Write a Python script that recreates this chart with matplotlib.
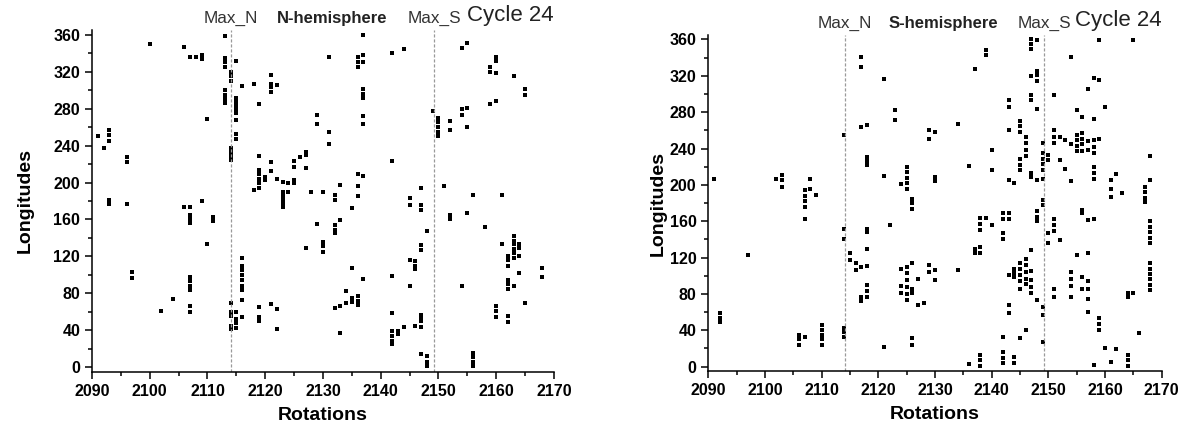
import numpy as np
import matplotlib
matplotlib.use("Agg")
import matplotlib.pyplot as plt
from matplotlib.ticker import MultipleLocator

plt.rcParams['font.family'] = ['Liberation Sans', 'DejaVu Sans']

# (rotation, longitude) of the active longitudes
north = [
    (2091, 250), (2092, 237), (2093, 257), (2093, 251), (2093, 245), (2093, 181), (2093, 177),
    (2096, 228), (2096, 222), (2096, 177), (2097, 103), (2097, 97), (2100, 350), (2102, 61),
    (2104, 74), (2106, 347), (2106, 174),
    (2107, 336), (2107, 174), (2107, 165), (2107, 160), (2107, 156), (2107, 98), (2107, 93),
    (2107, 88), (2107, 84), (2107, 66), (2107, 60), (2108, 336), (2109, 338), (2109, 334),
    (2109, 180), (2110, 269), (2110, 133), (2111, 163), (2111, 158),
    (2113, 358), (2113, 335), (2113, 330), (2113, 325), (2113, 300), (2113, 295), (2113, 290),
    (2113, 286),
    (2114, 320), (2114, 315), (2114, 310), (2114, 237), (2114, 233), (2114, 229), (2114, 224),
    (2114, 70), (2114, 60), (2114, 56), (2114, 45), (2114, 41),
    (2115, 331), (2115, 291), (2115, 287), (2115, 283), (2115, 279), (2115, 275), (2115, 268),
    (2115, 252), (2115, 247), (2115, 60), (2115, 52), (2115, 48), (2115, 43),
    (2116, 304), (2116, 118), (2116, 110), (2116, 105), (2116, 100), (2116, 95), (2116, 88),
    (2116, 84), (2116, 73), (2116, 55),
    (2118, 307), (2118, 192),
    (2119, 285), (2119, 229), (2119, 214), (2119, 209), (2119, 204), (2119, 200), (2119, 194),
    (2119, 65), (2119, 54), (2119, 50),
    (2120, 206), (2120, 203),
    (2121, 316), (2121, 307), (2121, 303), (2121, 298), (2121, 222), (2121, 212), (2121, 69),
    (2122, 305), (2122, 204), (2122, 63), (2122, 41),
    (2123, 201), (2123, 190), (2123, 186), (2123, 182), (2123, 178), (2123, 174),
    (2124, 199), (2124, 190), (2125, 223), (2125, 217), (2125, 203), (2125, 199),
    (2126, 228), (2127, 233), (2127, 230), (2127, 216), (2127, 129), (2128, 190),
    (2129, 273), (2129, 263), (2129, 155), (2130, 190), (2130, 136), (2130, 131), (2130, 125),
    (2131, 336), (2131, 255), (2131, 242),
    (2132, 187), (2132, 181), (2132, 154), (2132, 149), (2132, 145), (2132, 64),
    (2133, 197), (2133, 159), (2133, 66), (2133, 37), (2134, 83), (2134, 70),
    (2135, 172), (2135, 107), (2135, 75), (2135, 71),
    (2136, 336), (2136, 330), (2136, 325), (2136, 209), (2136, 196), (2136, 185), (2136, 77),
    (2136, 72), (2136, 68),
    (2137, 360), (2137, 338), (2137, 330), (2137, 301), (2137, 296), (2137, 291), (2137, 272),
    (2137, 263), (2137, 207), (2137, 96),
    (2142, 340), (2142, 223), (2142, 99), (2142, 59), (2142, 39), (2142, 34), (2142, 29),
    (2142, 25), (2143, 39), (2143, 36), (2144, 344), (2144, 44),
    (2145, 183), (2145, 176), (2145, 116), (2145, 88),
    (2146, 115), (2146, 110), (2146, 106), (2146, 45),
    (2147, 194), (2147, 176), (2147, 170), (2147, 132), (2147, 127), (2147, 57), (2147, 53),
    (2147, 50), (2147, 44), (2147, 14),
    (2148, 147), (2148, 12), (2148, 6), (2148, 1), (2149, 277),
    (2150, 270), (2150, 265), (2150, 260), (2150, 255), (2150, 250), (2151, 196),
    (2152, 266), (2152, 257), (2152, 165), (2152, 161),
    (2154, 345), (2154, 279), (2154, 273), (2154, 88),
    (2155, 351), (2155, 281), (2155, 260), (2155, 167),
    (2156, 186), (2156, 16), (2156, 11), (2156, 6), (2156, 1), (2158, 152),
    (2159, 325), (2159, 320), (2159, 285),
    (2160, 336), (2160, 331), (2160, 318), (2160, 288), (2160, 66), (2160, 61), (2160, 55),
    (2161, 186), (2161, 133),
    (2162, 120), (2162, 116), (2162, 110), (2162, 95), (2162, 90), (2162, 85), (2162, 56),
    (2162, 49),
    (2163, 315), (2163, 142), (2163, 137), (2163, 133), (2163, 128), (2163, 124), (2163, 118),
    (2163, 88),
    (2164, 134), (2164, 129), (2164, 121), (2164, 102), (2165, 301), (2165, 295), (2165, 70),
    (2168, 107), (2168, 98),
]

south = [
    (2091, 207), (2092, 59), (2092, 54), (2092, 49), (2097, 123), (2102, 206),
    (2103, 211), (2103, 205), (2103, 198), (2106, 35), (2106, 30), (2106, 24),
    (2107, 194), (2107, 188), (2107, 182), (2107, 176), (2107, 163), (2107, 33),
    (2108, 206), (2108, 196), (2109, 189),
    (2110, 46), (2110, 40), (2110, 35), (2110, 30), (2110, 24),
    (2114, 255), (2114, 152), (2114, 141), (2114, 42), (2114, 38), (2114, 33),
    (2115, 125), (2115, 117), (2116, 114), (2116, 106),
    (2117, 341), (2117, 330), (2117, 264), (2117, 110), (2117, 77), (2117, 72),
    (2118, 266), (2118, 231), (2118, 226), (2118, 222), (2118, 152), (2118, 148), (2118, 129),
    (2118, 111), (2118, 90), (2118, 83), (2118, 77),
    (2121, 316), (2121, 210), (2121, 22), (2122, 156), (2123, 282), (2123, 271),
    (2124, 201), (2124, 108), (2124, 89), (2124, 81),
    (2125, 220), (2125, 214), (2125, 208), (2125, 202), (2125, 196), (2125, 110), (2125, 103),
    (2125, 95), (2125, 88), (2125, 80), (2125, 73),
    (2126, 185), (2126, 180), (2126, 174), (2126, 114), (2126, 86), (2126, 81), (2126, 32),
    (2126, 24),
    (2127, 96), (2127, 68), (2128, 70), (2129, 260), (2129, 251), (2129, 112), (2129, 104),
    (2130, 258), (2130, 209), (2130, 204), (2130, 106), (2130, 95),
    (2134, 267), (2134, 106), (2136, 221), (2136, 3), (2137, 328), (2137, 130), (2137, 125),
    (2138, 164), (2138, 157), (2138, 150), (2138, 132), (2138, 125), (2138, 13), (2138, 7),
    (2138, 1),
    (2139, 348), (2139, 343), (2139, 164), (2140, 238), (2140, 216), (2140, 156),
    (2142, 169), (2142, 162), (2142, 147), (2142, 141), (2142, 33), (2142, 16), (2142, 10),
    (2142, 4),
    (2143, 293), (2143, 286), (2143, 260), (2143, 205), (2143, 169), (2143, 162), (2143, 101),
    (2143, 68), (2143, 59),
    (2144, 202), (2144, 108), (2144, 103), (2144, 99), (2144, 11), (2144, 4),
    (2145, 270), (2145, 265), (2145, 258), (2145, 228), (2145, 222), (2145, 216), (2145, 114),
    (2145, 108), (2145, 101), (2145, 94), (2145, 86), (2145, 32),
    (2146, 253), (2146, 246), (2146, 238), (2146, 232), (2146, 119), (2146, 112), (2146, 104),
    (2146, 97), (2146, 91), (2146, 40),
    (2147, 360), (2147, 355), (2147, 350), (2147, 320), (2147, 299), (2147, 293), (2147, 213),
    (2147, 209), (2147, 128), (2147, 105), (2147, 95), (2147, 88), (2147, 81),
    (2148, 359), (2148, 325), (2148, 321), (2148, 314), (2148, 283), (2148, 205), (2148, 171),
    (2148, 165), (2148, 160), (2148, 73),
    (2149, 246), (2149, 235), (2149, 229), (2149, 223), (2149, 216), (2149, 207), (2149, 183),
    (2149, 178), (2149, 66), (2149, 57), (2149, 27),
    (2150, 233), (2150, 227), (2150, 147), (2150, 136),
    (2151, 299), (2151, 260), (2151, 253), (2151, 246), (2151, 163), (2151, 156), (2151, 149),
    (2151, 86), (2151, 77),
    (2152, 253), (2152, 227), (2152, 139), (2153, 249), (2153, 218),
    (2154, 341), (2154, 245), (2154, 204), (2154, 104), (2154, 97), (2154, 89), (2154, 77),
    (2155, 282), (2155, 255), (2155, 249), (2155, 243), (2155, 237), (2155, 123),
    (2156, 275), (2156, 257), (2156, 251), (2156, 245), (2156, 237), (2156, 172), (2156, 169),
    (2156, 99), (2156, 86),
    (2157, 305), (2157, 248), (2157, 238), (2157, 161), (2157, 125), (2157, 94), (2157, 85),
    (2157, 75), (2157, 60),
    (2158, 318), (2158, 272), (2158, 249), (2158, 242), (2158, 235), (2158, 220), (2158, 213),
    (2158, 207), (2158, 163), (2158, 2),
    (2159, 359), (2159, 315), (2159, 251), (2159, 53), (2159, 47), (2159, 40),
    (2160, 286), (2160, 20), (2161, 205), (2161, 196), (2161, 187), (2161, 5),
    (2162, 212), (2162, 19), (2163, 191),
    (2164, 81), (2164, 77), (2164, 13), (2164, 7), (2164, 1), (2165, 359), (2165, 81),
    (2166, 37), (2167, 198), (2167, 192), (2167, 186), (2167, 181),
    (2168, 232), (2168, 205), (2168, 160), (2168, 154), (2168, 148), (2168, 142), (2168, 136),
    (2168, 114), (2168, 108), (2168, 102), (2168, 96), (2168, 90), (2168, 84),
]

max_n = 2114.1
max_s = 2149.3
titles = ["N-hemisphere", "S-hemisphere"]

fig = plt.figure(figsize=(11.85, 4.32), dpi=100)
ax1 = fig.add_axes([0.0776, 0.1389, 0.3899, 0.7917])
ax2 = fig.add_axes([0.5977, 0.1407, 0.3826, 0.7785])

for ax, data, title, ypad in zip([ax1, ax2], [north, south], titles, [14, 2]):
    d = np.array(data)
    ax.plot(d[:, 0], d[:, 1], 's', color='black', markersize=3.4, markeredgewidth=0)
    for xv in (max_n, max_s):
        ax.axvline(xv, color='#9a9a9a', linestyle=(0, (2.5, 1.5)), linewidth=0.9)
    ax.set_xlim(2090, 2170)
    ax.set_ylim(-5, 365)
    ax.spines['top'].set_visible(False)
    ax.spines['right'].set_visible(False)
    ax.spines['left'].set_linewidth(1.1)
    ax.spines['bottom'].set_linewidth(1.1)
    ax.xaxis.set_major_locator(MultipleLocator(10))
    ax.xaxis.set_minor_locator(MultipleLocator(5))
    ax.yaxis.set_major_locator(MultipleLocator(40))
    ax.yaxis.set_minor_locator(MultipleLocator(20))
    ax.tick_params(which='major', direction='out', length=5, width=1.1, labelsize=11.5)
    ax.tick_params(which='minor', direction='out', length=3, width=1.1)
    for lab in ax.get_xticklabels() + ax.get_yticklabels():
        lab.set_fontweight('bold')
    ax.set_xlabel("Rotations", fontsize=14, fontweight='bold', labelpad=6)
    ax.set_ylabel("Longitudes", fontsize=14, fontweight='bold', labelpad=ypad)

    tr = ax.get_xaxis_transform()
    ax.text(max_n, 1.012, "Max_N", transform=tr, ha='center', va='bottom',
            fontsize=12.3, color='#333333')
    ax.text(max_s, 1.012, "Max_S", transform=tr, ha='center', va='bottom',
            fontsize=12.3, color='#333333')
    ax.text(2131.5, 1.012, title, transform=tr, ha='center', va='bottom',
            fontsize=12, fontweight='bold', color='#222222')
    ax.text(2170, 1.012, "Cycle 24", transform=tr, ha='right', va='bottom',
            fontsize=16, color='#222222')

fig.savefig("out.png", dpi=100)
